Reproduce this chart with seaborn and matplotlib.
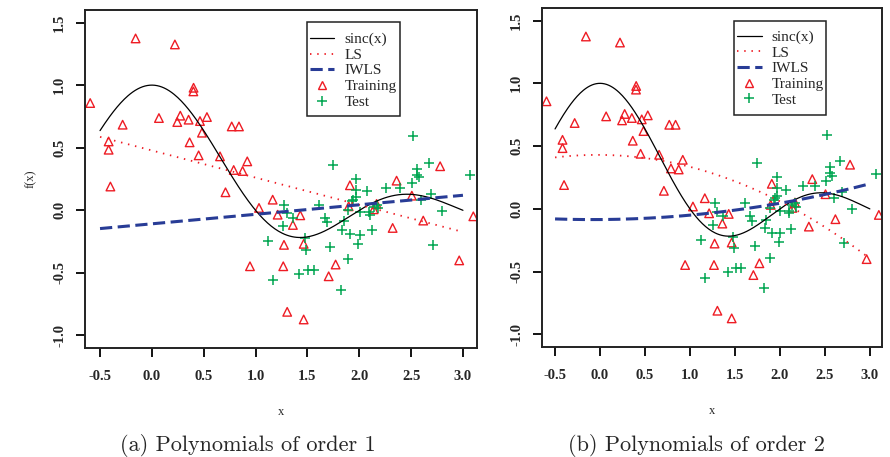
import numpy as np
import pandas as pd
import matplotlib
matplotlib.use("Agg")
import matplotlib.pyplot as plt
from matplotlib.lines import Line2D
from matplotlib.patches import Rectangle
from matplotlib.font_manager import FontProperties
import seaborn as sns

# ---- data -------------------------------------------------------------
train_x = [-0.595, -0.157, 0.222, 0.402, 0.400, -0.282, 0.068, 0.274, 0.245, 0.354,
           0.464, 0.531, 0.483, 0.770, 0.840, -0.417, -0.417, 0.364, 0.451, 0.657,
           0.789, 0.875, 0.920, -0.400, 0.710, 1.165, 1.033, 1.213, 1.431, 1.360,
           1.274, 1.464, 0.946, 1.267, 1.772, 1.705, 1.305, 1.464, 1.910, 2.360,
           1.898, 2.167, 2.139, 2.507, 2.617, 2.322, 2.964, 3.100, 2.780]
train_y = [0.857, 1.373, 1.325, 0.979, 0.950, 0.684, 0.737, 0.756, 0.705, 0.724,
           0.713, 0.745, 0.620, 0.670, 0.670, 0.550, 0.484, 0.543, 0.439, 0.431,
           0.322, 0.314, 0.391, 0.190, 0.144, 0.085, 0.019, -0.035, -0.040, -0.117,
           -0.276, -0.268, -0.447, -0.447, -0.433, -0.527, -0.811, -0.872, 0.200, 0.237,
           0.032, 0.051, 0.008, 0.117, -0.082, -0.141, -0.400, -0.048, 0.352]

test_x = [1.745, 2.520, 2.670, 2.560, 2.560, 2.580, 3.070, 1.970, 1.970, 2.070,
          2.260, 2.390, 2.510, 2.690, 2.600, 2.800, 2.710, 1.278, 1.300, 1.365,
          1.260, 1.120, 1.170, 1.610, 1.670, 1.690, 1.850, 1.895, 1.930, 1.970,
          2.006, 2.097, 2.100, 2.180, 2.170, 1.830, 1.910, 2.006, 2.120, 1.985,
          1.720, 1.475, 1.485, 1.890, 1.510, 1.566, 1.418, 1.820, 2.140, 1.940]
test_y = [0.365, 0.590, 0.378, 0.330, 0.285, 0.263, 0.279, 0.253, 0.165, 0.152,
          0.179, 0.179, 0.219, 0.133, 0.085, -0.002, -0.274, 0.045, -0.025, -0.060,
          -0.128, -0.247, -0.553, 0.045, -0.060, -0.093, -0.088, 0.006, 0.072, 0.104,
          -0.013, -0.013, -0.034, 0.019, 0.046, -0.154, -0.190, -0.194, -0.160, -0.266,
          -0.295, -0.220, -0.314, -0.388, -0.473, -0.473, -0.505, -0.633, 0.030, 0.085]

# fitted polynomial coefficients (constant, linear, quadratic)
ls_coef = {1: [0.478, -0.217, 0.0], 2: [0.430, -0.005, -0.090]}
iwls_coef = {1: [-0.108, 0.076, 0.0], 2: [-0.085, 0.005, 0.030]}

panel_orders = [1, 2]
captions = ["(a) Polynomials of order 1", "(b) Polynomials of order 2"]
legend_labels = ["sinc(x)", "LS", "IWLS", "Training", "Test"]
x_ticks = [-0.5, 0.0, 0.5, 1.0, 1.5, 2.0, 2.5, 3.0]
x_ticklabels = ["-0.5", "0.0", "0.5", "1.0", "1.5", "2.0", "2.5", "3.0"]
y_ticks = [-1.0, -0.5, 0.0, 0.5, 1.0, 1.5]
y_ticklabels = ["-1.0", "-0.5", "0.0", "0.5", "1.0", "1.5"]

# ---- layout (figure fractions / axes fractions) ------------------------
axes_rects = [[0.0955, 0.2385, 0.4404, 0.7396],
              [0.609, 0.2407, 0.382, 0.7418]]
legend_boxes = [(0.566, 0.686, 0.237, 0.278),
                (0.565, 0.684, 0.271, 0.277)]
legend_anchor = [(0.574, 0.933), (0.574, 0.934)]
caption_x = [0.2787, 0.783]

# ---- style ------------------------------------------------------------
sns.set_style("ticks")
plt.rcParams["font.family"] = ["Liberation Serif", "DejaVu Serif"]

RED = "#ee1c24"
GREEN = "#00a651"
BLUE = "#283c96"
LS_DASH = (0, (0.8, 3.2))
IW_DASH = (0, (4.0, 1.8))

fig = plt.figure(figsize=(8.9, 4.57), dpi=100)
axes = [fig.add_axes(r) for r in axes_rects]

grid = np.linspace(-0.5, 3.0, 300)
train = pd.DataFrame({"x": train_x, "y": train_y})
test = pd.DataFrame({"x": test_x, "y": test_y})

tick_font = FontProperties(family="Liberation Serif", weight="bold", size=10.5)
leg_font = FontProperties(family="Liberation Serif", size=11)

for i, (ax, order, cap) in enumerate(zip(axes, panel_orders, captions)):
    c_ls = ls_coef[order]
    c_iw = iwls_coef[order]
    ls_curve = c_ls[0] + c_ls[1] * grid + c_ls[2] * grid ** 2
    iw_curve = c_iw[0] + c_iw[1] * grid + c_iw[2] * grid ** 2

    sns.lineplot(x=grid, y=np.sinc(grid), ax=ax, color="black", lw=0.9)
    sns.lineplot(x=grid, y=ls_curve, ax=ax, color=RED, lw=1.3, linestyle=LS_DASH)
    sns.lineplot(x=grid, y=iw_curve, ax=ax, color=BLUE, lw=2.2, linestyle=IW_DASH)
    sns.scatterplot(data=train, x="x", y="y", ax=ax, marker="^", s=38,
                    color=RED, facecolor="none", edgecolor=RED, linewidth=1.0)
    sns.scatterplot(data=test, x="x", y="y", ax=ax, marker="+", s=48,
                    color=GREEN, linewidth=1.1)

    ax.set_xlim(-0.645, 3.135)
    ax.set_ylim(-1.1, 1.6)
    ax.set_xticks(x_ticks)
    ax.set_xticklabels(x_ticklabels, fontproperties=tick_font)
    ax.set_yticks(y_ticks)
    ax.set_yticklabels(y_ticklabels, fontproperties=tick_font,
                       rotation=90, va="center")
    ax.tick_params(axis="x", direction="out", length=6.5, width=1.3, pad=9,
                   color="black")
    ax.tick_params(axis="y", direction="out", length=6.5, width=1.3, pad=7,
                   color="black")
    for sp in ax.spines.values():
        sp.set_visible(True)
        sp.set_linewidth(1.4)
        sp.set_color("#222222")
    ax.set_xlabel("x", fontsize=9, labelpad=17)
    ax.set_ylabel("")

    # legend: entries without frame, frame drawn as a plain rectangle
    handles = [
        Line2D([], [], color="black", lw=0.9),
        Line2D([], [], color=RED, lw=1.3, linestyle=LS_DASH),
        Line2D([], [], color=BLUE, lw=2.2, linestyle=IW_DASH),
        Line2D([], [], ls="none", marker="^", mfc="none", mec=RED, ms=6.2, mew=1.0),
        Line2D([], [], ls="none", marker="+", color=GREEN, ms=7, mew=1.1),
    ]
    ax.legend(handles, legend_labels, loc="upper left",
              bbox_to_anchor=legend_anchor[i], borderaxespad=0, borderpad=0,
              frameon=False, prop=leg_font, handlelength=1.6,
              handletextpad=0.65, labelspacing=0.16, handleheight=0.6)
    bx, by, bw, bh = legend_boxes[i]
    ax.add_patch(Rectangle((bx, by), bw, bh, transform=ax.transAxes,
                           facecolor="none", edgecolor="#222222", lw=1.1,
                           zorder=6))

    fig.text(caption_x[i], 0.026, cap, family="cmr10", fontsize=16,
             ha="center", va="center")

axes[0].set_ylabel("f(x)", fontsize=9, labelpad=12)

fig.savefig("out.png", dpi=100)
